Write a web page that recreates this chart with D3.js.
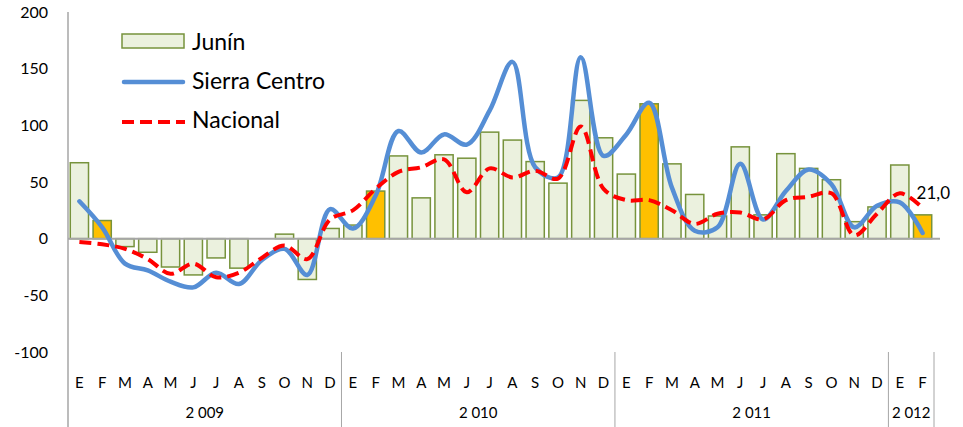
<!DOCTYPE html>
<meta charset="utf-8">
<style>
body { margin: 0; background: #fff; }
text { font-family: Lato, "Open Sans", sans-serif; fill: #000; }
</style>
<script src="https://cdn.jsdelivr.net/npm/d3@7"></script>
<body>
<script>
const years = ['2 009', '2 010', '2 011', '2 012'];
const monthLetters = ['E', 'F', 'M', 'A', 'M', 'J', 'J', 'A', 'S', 'O', 'N', 'D'];
const monthsPerYear = [12, 12, 12, 2];

const junin = [67, 16, -7, -12, -25, -32, -17, -26, 0, 4, -36, 9,
               12, 42, 73, 36, 74, 71, 94, 87, 68, 49, 122, 89,
               57, 119, 66, 39, 20, 81, 21, 75, 62, 52, 15, 28,
               65, 21.0];
const sierraCentro = [33, 10, -22, -28, -38, -43, -30, -40, -19, -9, -32, 26,
                      9, 38, 95, 76, 92, 83, 113, 156, 63, 54, 160, 73,
                      92, 120, 45, 7, 10, 66, 17, 42, 61, 48, 10, 29,
                      32, 5];
const nacional = [-3, -5, -9, -18, -31, -22, -34, -30, -17, -6, -18, 17,
                  25, 44, 59, 63, 70, 41, 62, 54, 60, 53, 99, 44,
                  34, 34, 25, 13, 22, 23, 17, 34, 37, 40, 3, 22,
                  40, 27];
const yTicks = [-100, -50, 0, 50, 100, 150, 200];

// build category list
const cats = [];
years.forEach((y, yi) => {
  for (let m = 0; m < monthsPerYear[yi]; m++) cats.push({ year: y, yi, m, id: yi + '-' + m });
});
const rows = cats.map((c, i) => ({ ...c, junin: junin[i], sierra: sierraCentro[i], nacional: nacional[i] }));

const W = 963, H = 427;
const mLeft = 68, mRight = 934, mTop = 12, mBottom = 352;

const svg = d3.select('body').append('svg').attr('width', W).attr('height', H);

const x = d3.scaleBand().domain(rows.map(d => d.id)).range([mLeft, mRight]).paddingInner(0.2).paddingOuter(0.1);
const y = d3.scaleLinear().domain([-100, 200]).range([mBottom, mTop]);

// y axis labels
svg.append('g').selectAll('text').data(yTicks).join('text')
  .attr('x', 48).attr('y', d => y(d)).attr('dy', '0.35em')
  .attr('text-anchor', 'end').style('font-size', '16px').text(d => d);

// bars
svg.append('g').selectAll('rect').data(rows.filter(d => d.junin !== 0)).join('rect')
  .attr('x', d => x(d.id))
  .attr('width', x.bandwidth())
  .attr('y', d => y(Math.max(0, d.junin)))
  .attr('height', d => Math.abs(y(d.junin) - y(0)))
  .attr('fill', d => d.m === 1 ? '#FFC000' : '#EBF1DE')
  .attr('stroke', '#77933C').attr('stroke-width', 1.5);

// zero line
svg.append('line').attr('x1', mLeft).attr('x2', mRight + 6).attr('y1', y(0)).attr('y2', y(0))
  .attr('stroke', '#A6A6A6').attr('stroke-width', 2);

// left axis line
svg.append('line').attr('x1', mLeft).attr('x2', mLeft).attr('y1', mTop).attr('y2', H)
  .attr('stroke', '#A6A6A6').attr('stroke-width', 1.5);

const cx = d => x(d.id) + x.bandwidth() / 2;

const curve = d3.curveCatmullRom.alpha(0.5);
svg.append('path').datum(rows)
  .attr('d', d3.line().x(cx).y(d => y(d.sierra)).curve(curve))
  .attr('fill', 'none').attr('stroke', '#558ED5').attr('stroke-width', 4.5)
  .attr('stroke-linecap', 'round');

svg.append('path').datum(rows)
  .attr('d', d3.line().x(cx).y(d => y(d.nacional)).curve(curve))
  .attr('fill', 'none').attr('stroke', '#FF0000').attr('stroke-width', 4)
  .attr('stroke-dasharray', '12 6');

// last value label
const last = rows[rows.length - 1];
svg.append('text').attr('x', cx(last) - 6).attr('y', 193).attr('dy', '0.35em')
  .style('font-size', '17px').text(d3.format('.1f')(last.junin).replace('.', ','));

// month labels
svg.append('g').selectAll('text').data(rows).join('text')
  .attr('x', cx).attr('y', 383).attr('dy', '0.35em').attr('text-anchor', 'middle')
  .style('font-size', '15px').text(d => monthLetters[d.m]);

// year separators and labels
const step = x.step();
let start = 0;
const yearInfo = years.map((yr, yi) => {
  const s = start; start += monthsPerYear[yi];
  return { yr, x0: x(rows[s].id) - step * 0.1, x1: x(rows[start - 1].id) + x.bandwidth() + step * 0.1 };
});
svg.append('g').selectAll('line').data(yearInfo.map(d => d.x1)).join('line')
  .attr('x1', d => d).attr('x2', d => d).attr('y1', mBottom).attr('y2', H)
  .attr('stroke', '#A6A6A6').attr('stroke-width', 1);
svg.append('g').selectAll('text').data(yearInfo).join('text')
  .attr('x', d => (d.x0 + d.x1) / 2).attr('y', 413).attr('dy', '0.35em').attr('text-anchor', 'middle')
  .style('font-size', '15px').text(d => d.yr);

// legend
const lg = svg.append('g');
lg.append('rect').attr('x', 122).attr('y', 34).attr('width', 62).attr('height', 14)
  .attr('fill', '#EBF1DE').attr('stroke', '#77933C').attr('stroke-width', 1.5);
lg.append('line').attr('x1', 124).attr('x2', 183).attr('y1', 82).attr('y2', 82)
  .attr('stroke', '#558ED5').attr('stroke-width', 4.5).attr('stroke-linecap', 'round');
lg.append('line').attr('x1', 122).attr('x2', 185).attr('y1', 122).attr('y2', 122)
  .attr('stroke', '#FF0000').attr('stroke-width', 4).attr('stroke-dasharray', '12 6');
const legendText = ['Junín', 'Sierra Centro', 'Nacional'];
lg.selectAll('text').data(legendText).join('text')
  .attr('x', 192).attr('y', (d, i) => 42 + i * 39).attr('dy', '0.35em')
  .style('font-size', '23px').text(d => d);
</script>
</body>
</html>
